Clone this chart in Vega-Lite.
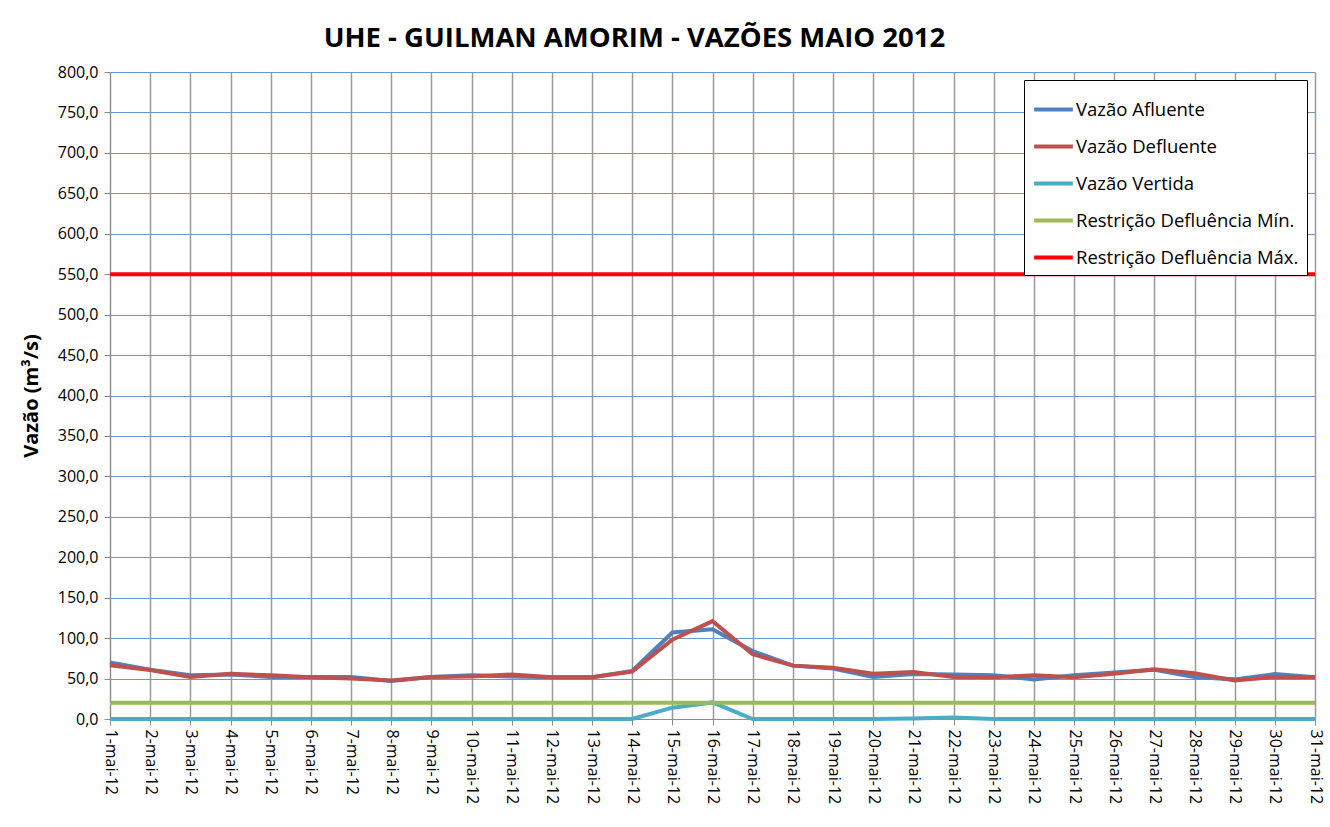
{
  "$schema": "https://vega.github.io/schema/vega-lite/v6.json",
  "autosize": {"type": "none"},
  "width": 1205,
  "height": 647,
  "padding": {"left": 110, "top": 72, "right": 15, "bottom": 108},
  "background": "white",
  "title": {
    "text": "UHE - GUILMAN AMORIM - VAZÕES MAIO 2012",
    "font": "Open Sans",
    "fontSize": 27.5,
    "fontWeight": "bold",
    "color": "#000000",
    "anchor": "middle",
    "dx": -78,
    "offset": 12
  },
  "config": {
    "view": {"stroke": null},
    "font": "Open Sans"
  },
  "data": {
    "values": [
      {"day": 1, "afl": 70, "def": 66.5, "vert": 0, "min": 20, "max": 550},
      {"day": 2, "afl": 61, "def": 60.5, "vert": 0, "min": 20, "max": 550},
      {"day": 3, "afl": 54, "def": 52, "vert": 0, "min": 20, "max": 550},
      {"day": 4, "afl": 55, "def": 56, "vert": 0, "min": 20, "max": 550},
      {"day": 5, "afl": 52, "def": 54, "vert": 0, "min": 20, "max": 550},
      {"day": 6, "afl": 52, "def": 51.5, "vert": 0, "min": 20, "max": 550},
      {"day": 7, "afl": 52, "def": 50, "vert": 0, "min": 20, "max": 550},
      {"day": 8, "afl": 47, "def": 47.5, "vert": 0, "min": 20, "max": 550},
      {"day": 9, "afl": 52, "def": 52, "vert": 0, "min": 20, "max": 550},
      {"day": 10, "afl": 54, "def": 52.5, "vert": 0, "min": 20, "max": 550},
      {"day": 11, "afl": 52.5, "def": 55, "vert": 0, "min": 20, "max": 550},
      {"day": 12, "afl": 51.5, "def": 51.5, "vert": 0, "min": 20, "max": 550},
      {"day": 13, "afl": 51.5, "def": 51.5, "vert": 0, "min": 20, "max": 550},
      {"day": 14, "afl": 59.5, "def": 58.5, "vert": 0, "min": 20, "max": 550},
      {"day": 15, "afl": 107, "def": 98, "vert": 14, "min": 20, "max": 550},
      {"day": 16, "afl": 111, "def": 121, "vert": 20.5, "min": 20, "max": 550},
      {"day": 17, "afl": 84, "def": 80, "vert": 0, "min": 20, "max": 550},
      {"day": 18, "afl": 66, "def": 66, "vert": 0, "min": 20, "max": 550},
      {"day": 19, "afl": 62.5, "def": 63.5, "vert": 0, "min": 20, "max": 550},
      {"day": 20, "afl": 52, "def": 56, "vert": 0, "min": 20, "max": 550},
      {"day": 21, "afl": 55.5, "def": 58, "vert": 0.5, "min": 20, "max": 550},
      {"day": 22, "afl": 55, "def": 52, "vert": 2, "min": 20, "max": 550},
      {"day": 23, "afl": 54, "def": 51.5, "vert": 0, "min": 20, "max": 550},
      {"day": 24, "afl": 49, "def": 54, "vert": 0, "min": 20, "max": 550},
      {"day": 25, "afl": 54, "def": 51.5, "vert": 0, "min": 20, "max": 550},
      {"day": 26, "afl": 57.5, "def": 56, "vert": 0, "min": 20, "max": 550},
      {"day": 27, "afl": 61, "def": 61.5, "vert": 0, "min": 20, "max": 550},
      {"day": 28, "afl": 52, "def": 56.5, "vert": 0, "min": 20, "max": 550},
      {"day": 29, "afl": 49, "def": 47.5, "vert": 0, "min": 20, "max": 550},
      {"day": 30, "afl": 55.5, "def": 52, "vert": 0, "min": 20, "max": 550},
      {"day": 31, "afl": 51.5, "def": 51.5, "vert": 0, "min": 20, "max": 550}
    ]
  },
  "transform": [
    {"fold": ["afl", "def", "vert", "min", "max"], "as": ["serie", "valor"]}
  ],
  "mark": {"type": "line", "strokeWidth": 4, "strokeJoin": "miter"},
  "encoding": {
    "x": {
      "field": "day",
      "type": "ordinal",
      "scale": {"type": "point", "padding": 0},
      "axis": {
        "title": null,
        "labelExpr": "datum.value + '-mai-12'",
        "labelAngle": 90,
        "labelAlign": "left",
        "labelBaseline": "middle",
        "labelFontSize": 16,
        "labelColor": "#000000",
        "labelPadding": 4,
        "tickSize": 6,
        "tickColor": "#8c8c8c",
        "domainColor": "#8c8c8c",
        "grid": true,
        "gridColor": "#9a9a9a",
        "gridWidth": 1.5
      }
    },
    "y": {
      "field": "valor",
      "type": "quantitative",
      "scale": {"domain": [0, 800], "nice": false},
      "axis": {
        "title": "Vazão (m³/s)",
        "titleFontSize": 20,
        "titleFontWeight": "bold",
        "titleColor": "#000000",
        "titlePadding": 16,
        "values": [0, 50, 100, 150, 200, 250, 300, 350, 400, 450, 500, 550, 600, 650, 700, 750, 800],
        "labelExpr": "replace(format(datum.value, '.1f'), '.', ',')",
        "labelFontSize": 16,
        "labelColor": "#000000",
        "labelPadding": 6,
        "tickSize": 6,
        "tickColor": "#8c8c8c",
        "domainColor": "#8c8c8c",
        "grid": true,
        "gridColor": "#6e96cc",
        "gridWidth": 1
      }
    },
    "color": {
      "field": "serie",
      "type": "nominal",
      "sort": ["afl", "def", "vert", "min", "max"],
      "scale": {
        "domain": ["afl", "def", "vert", "min", "max"],
        "range": ["#4F81BD", "#C0504D", "#4BACC6", "#9BBB59", "#FF0000"]
      },
      "legend": {
        "title": null,
        "orient": "top-right",
        "offset": 8,
        "fillColor": "white",
        "strokeColor": "#000000",
        "padding": 8,
        "symbolType": "stroke",
        "symbolStrokeWidth": 4,
        "symbolSize": 1500,
        "labelFontSize": 18.5,
        "labelColor": "#000000",
        "labelOffset": 1,
        "rowPadding": 6,
        "labelLimit": 400,
        "labelExpr": "{'afl': 'Vazão Afluente', 'def': 'Vazão Defluente', 'vert': 'Vazão Vertida', 'min': 'Restrição Defluência Mín.', 'max': 'Restrição Defluência Máx.'}[datum.value]"
      }
    },
    "order": {"field": "day", "type": "quantitative"}
  }
}
